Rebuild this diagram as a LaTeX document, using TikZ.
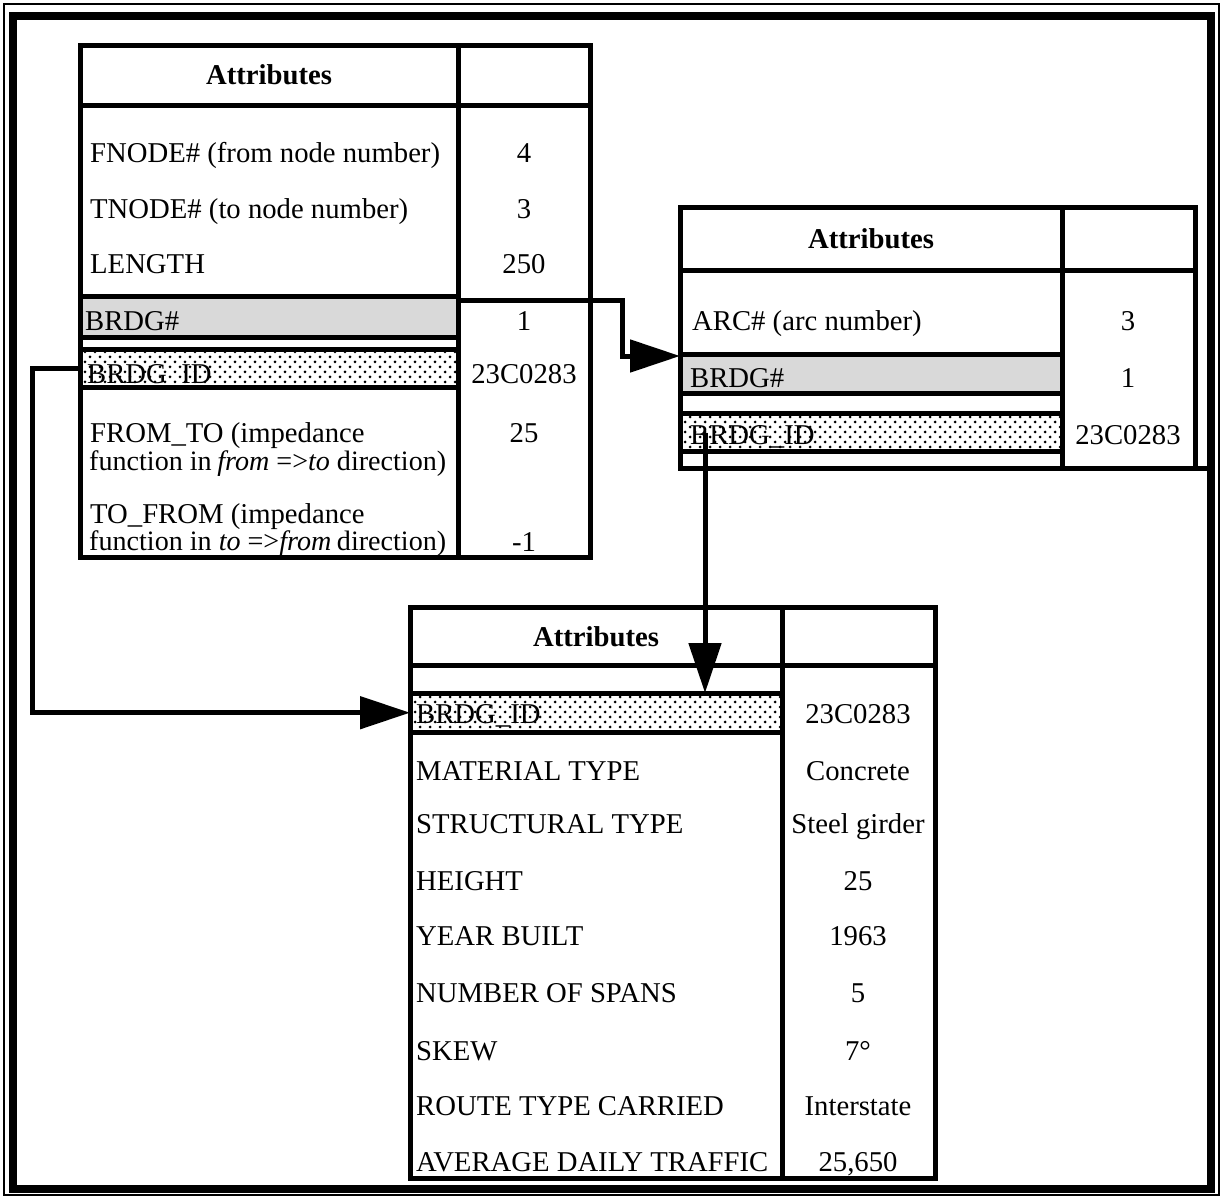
\documentclass[tikz,border=0pt]{standalone}
\usepackage{fontspec}
\setmainfont{Liberation Serif}
\usetikzlibrary{arrows.meta,patterns}
\pgfdeclarepatternformonly{bigdots}{\pgfqpoint{-2pt}{-2pt}}{\pgfqpoint{8pt}{8pt}}{\pgfqpoint{10pt}{10pt}}{%
  \pgfpathcircle{\pgfqpoint{0pt}{0pt}}{1.5pt}%
  \pgfpathcircle{\pgfqpoint{5pt}{5pt}}{1.5pt}%
  \pgfusepath{fill}}
\newcommand{\myfs}{\fontsize{28.7}{30}\selectfont}
\newcommand{\myfsn}{\fontsize{28.1}{30}\selectfont}
\tikzset{
  tl/.style={line width=5pt},
  conn/.style={line width=5pt, -{Triangle[length=50pt,width=32pt]}},
  lbl/.style={anchor=base west, inner sep=0pt, font=\myfs},
  lbln/.style={anchor=base west, inner sep=0pt, font=\myfsn},
  val/.style={anchor=base, inner sep=0pt, font=\myfs},
  hdr/.style={anchor=base, inner sep=0pt, font=\myfs\bfseries},
  rowgray/.style={fill=black!15, draw=none, inner sep=0pt, anchor=north west},
  rowdots/.style={pattern=bigdots, pattern color=black, draw=none, inner sep=0pt, anchor=north west}
}
\begin{document}
\begin{tikzpicture}[x=1pt,y=-1pt]
\useasboundingbox (0,0) rectangle (1222,1197);
\fill[white] (0,0) rectangle (1222,1197);
% frame
\draw[line width=1.5pt] (4,4) rectangle (1219,1195);
\draw[line width=8pt] (13,15.5) rectangle (1211,1188.5);

% ---------- table 1 ----------
\node[rowgray, minimum width=378pt, minimum height=40pt] (t1brdg) at (80,297) {};
\node[rowdots, minimum width=378pt, minimum height=39pt] (t1brdgid) at (80,349) {};
\draw[tl] (80,45) rectangle (590,557);
\draw[tl] (458,45) -- (458,557);
\draw[tl] (80,105) -- (590,105);
\draw[tl] (80,296) -- (458,296);
\draw[tl] (80,337) -- (458,337);
\draw[tl] (80,349.5) -- (458,349.5);
\draw[tl] (80,387.5) -- (458,387.5);

\node[hdr] (t1h) at (269,84) {Attributes};
\node[lbl] (t1a) at (90,162) {FNODE\# (from node number)};
\node[val] (t1av) at (524,162) {4};
\node[lbl] (t1b) at (90,218) {TNODE\# (to node number)};
\node[val] (t1bv) at (524,218) {3};
\node[lbl] (t1c) at (90,273) {LENGTH};
\node[val] (t1cv) at (524,273) {250};
\node[lbl] (t1d) at (85,330) {BRDG\#};
\node[val] (t1dv) at (524,330) {1};
\node[lbl] (t1e) at (87,383) {BRDG\_ID};
\node[val] (t1ev) at (524,383) {23C0283};
\node[lbl] (t1f1) at (90,442) {FROM\_TO (impedance};
\node[lbln] (t1f2) at (89,470) {function in\hspace{.2em}\textit{from} =>\textit{to} direction)};
\node[val] (t1fv) at (524,442) {25};
\node[lbl] (t1g1) at (90,523) {TO\_FROM (impedance};
\node[lbln] (t1g2) at (89,550) {function in \textit{to} =>\textit{from}\hspace{.2em}direction)};
\node[val] (t1gv) at (524,551) {-1};

% ---------- table 2 ----------
\node[rowgray, minimum width=382pt, minimum height=37pt] (t2brdg) at (680,356) {};
\node[rowdots, minimum width=382pt, minimum height=37pt] (t2brdgid) at (680,414) {};
\draw[tl] (680,207) rectangle (1195,468);
\draw[tl] (1062,207) -- (1062,468);
\draw[tl] (680,270) -- (1195,270);
\draw[tl] (680,354) -- (1062,354);
\draw[tl] (680,393) -- (1062,393);
\draw[tl] (680,413.5) -- (1062,413.5);
\draw[tl] (680,451) -- (1062,451);
\draw[tl] (1195,468) -- (1211,468);

\node[hdr] (t2h) at (871,248) {Attributes};
\node[lbl] (t2a) at (692,330) {ARC\# (arc number)};
\node[val] (t2av) at (1128,330) {3};
\node[lbl] (t2b) at (690,387) {BRDG\#};
\node[val] (t2bv) at (1128,387) {1};
\node[lbl] (t2c) at (690,444) {BRDG\_ID};
\node[val] (t2cv) at (1128,444) {23C0283};

% ---------- table 3 ----------
\node[rowdots, minimum width=372pt, minimum height=39pt] (t3brdgid) at (410,693) {};
\draw[tl] (410,607) rectangle (935,1178);
\draw[tl] (782,607) -- (782,1178);
\draw[tl] (410,665) -- (935,665);
\draw[tl] (410,693) -- (782,693);
\draw[tl] (410,732) -- (782,732);

\node[hdr] (t3h) at (596,646) {Attributes};
\node[lbl] (t3a) at (416,723) {BRDG\_ID};
\node[val] (t3av) at (858,723) {23C0283};
\node[lbl] (t3b) at (416,780) {MATERIAL TYPE};
\node[val] (t3bv) at (858,780) {Concrete};
\node[lbl] (t3c) at (416,833) {STRUCTURAL TYPE};
\node[val] (t3cv) at (858,833) {Steel girder};
\node[lbl] (t3d) at (416,890) {HEIGHT};
\node[val] (t3dv) at (858,890) {25};
\node[lbl] (t3e) at (416,945) {YEAR BUILT};
\node[val] (t3ev) at (858,945) {1963};
\node[lbl] (t3f) at (416,1002) {NUMBER OF SPANS};
\node[val] (t3fv) at (858,1002) {5};
\node[lbl] (t3g) at (416,1060) {SKEW};
\node[val] (t3gv) at (858,1060) {7°};
\node[lbl] (t3h2) at (416,1115) {ROUTE TYPE CARRIED};
\node[val] (t3hv) at (858,1115) {Interstate};
\node[lbl] (t3i) at (416,1171) {AVERAGE DAILY TRAFFIC};
\node[val] (t3iv) at (858,1171) {25,650};

% ---------- connectors ----------
\coordinate (c1s) at ([yshift=-3pt]t1brdg.north east);
\draw[conn] (c1s) -- ++(164,0) |- (t2brdg.north west);
\coordinate (c2s) at ([xshift=25pt]t2brdgid.west);
\draw[conn] (c2s) -- (c2s |- t3brdgid.north);
\draw[conn] (t1brdgid.west) -- ++(-48,0) |- (t3brdgid.west);
\end{tikzpicture}
\end{document}
